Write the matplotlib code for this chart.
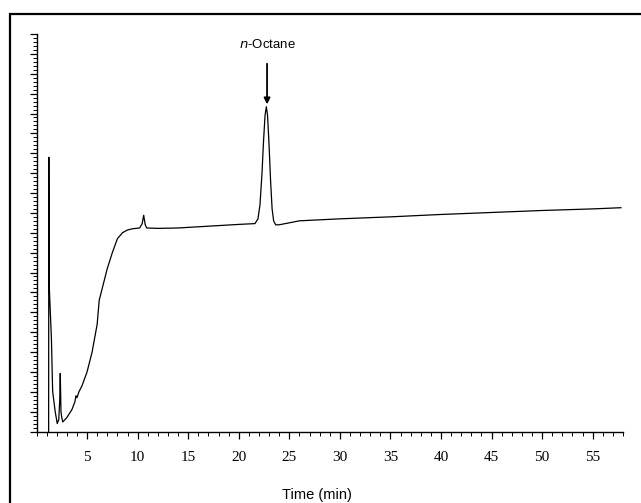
import matplotlib
matplotlib.use("Agg")
import matplotlib.pyplot as plt
from matplotlib.ticker import MultipleLocator
from matplotlib.patches import Rectangle

# chromatogram trace (time in min, signal in arbitrary units)
time_min = [1.2, 1.22, 1.25, 1.3, 1.4, 1.48, 1.55, 1.6, 1.7, 1.85, 2.05, 2.2, 2.3,
            2.35, 2.42, 2.5, 2.6, 3.0, 3.5, 3.8, 3.9, 4.0, 4.2, 4.5, 5.0, 5.5,
            6.0, 6.2, 6.3, 6.6, 7.0, 7.5, 8.0, 8.5, 9.0, 9.5, 10.2, 10.45, 10.6,
            10.75, 10.9, 12.0, 14.0, 16.0, 18.0, 20.0, 21.6, 21.9, 22.1, 22.3,
            22.45, 22.6, 22.73, 22.85, 23.0, 23.15, 23.3, 23.45, 23.65, 24.0,
            26.0, 30.0, 35.0, 40.0, 45.0, 50.0, 55.0, 57.8]
signal = [0.0, 69.0, 38.0, 34.0, 28.0, 23.0, 15.0, 10.0, 8.0, 5.0, 2.0, 3.0, 8.0,
          14.6, 5.0, 3.5, 2.4, 3.5, 5.5, 7.5, 9.0, 8.5, 10.0, 11.5, 15.0, 20.0,
          27.0, 33.0, 34.0, 37.0, 41.0, 45.0, 48.5, 50.0, 50.7, 51.0, 51.2, 52.3, 54.4,
          52.0, 51.2, 51.1, 51.2, 51.5, 51.8, 52.1, 52.3, 53.5, 57.0, 65.0,
          73.0, 79.5, 81.7, 79.5, 72.0, 63.0, 56.0, 53.0, 52.0, 52.0,
          53.0, 53.5, 54.0, 54.6, 55.1, 55.6, 56.0, 56.3]

peak_label = "$\\mathit{n}$-Octane"
peak_time = 22.8

fig = plt.figure(figsize=(6.41, 5.03), dpi=100)
ax = fig.add_axes([36.5 / 641, 1 - 431.5 / 503, (623 - 36.5) / 641, (431.5 - 34) / 503])

ax.plot(time_min, signal, color="black", lw=0.9)

ax.set_xlim(0, 58)
ax.set_ylim(0, 100)
ax.spines["top"].set_visible(False)
ax.spines["right"].set_visible(False)
ax.spines["left"].set_linewidth(1.0)
ax.spines["bottom"].set_linewidth(1.0)

ax.xaxis.set_major_locator(MultipleLocator(5))
ax.xaxis.set_minor_locator(MultipleLocator(1))
ax.yaxis.set_major_locator(MultipleLocator(5))
ax.yaxis.set_minor_locator(MultipleLocator(1))
ax.set_xticks([5, 10, 15, 20, 25, 30, 35, 40, 45, 50, 55])
ax.set_yticklabels([])
ax.tick_params(axis="both", which="major", direction="out", length=5, width=0.9)
ax.tick_params(axis="both", which="minor", direction="out", length=3, width=0.7)
ax.tick_params(axis="x", labelsize=11, pad=9)
for lbl in ax.get_xticklabels():
    lbl.set_family("Liberation Serif")

ax.set_xlabel("Time (min)", family="Liberation Sans", fontsize=10.5, va="center")
ax.xaxis.set_label_coords((316.5 - 36.5) / (623 - 36.5), -63.5 / 397.5)

ax.annotate(peak_label, xy=(peak_time, 82.3), xytext=(peak_time, 97.3),
            ha="center", va="center", family="Liberation Sans", fontsize=9.5,
            arrowprops=dict(arrowstyle="-|>", color="black", lw=1.3,
                            mutation_scale=9, shrinkA=7, shrinkB=0))

# outer frame of the original figure
fig.patches.append(Rectangle((10 / 641, -0.05), 1.1, 1 - 14 / 503 + 0.05,
                             transform=fig.transFigure, fill=False,
                             edgecolor="black", lw=1.6))

fig.savefig("out.png", dpi=100)
